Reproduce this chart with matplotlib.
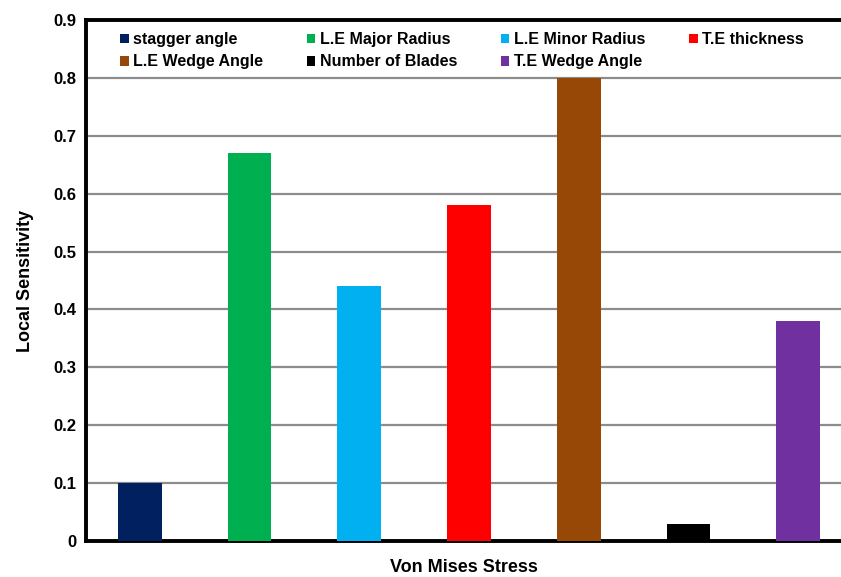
"""Local sensitivity of von Mises stress to each blade design parameter."""

import matplotlib

matplotlib.use("Agg")

import matplotlib.pyplot as plt

PARAMETERS = [
    "stagger angle",
    "L.E Major Radius",
    "L.E Minor Radius",
    "T.E thickness",
    "L.E Wedge Angle",
    "Number of Blades",
    "T.E Wedge Angle",
]
SENSITIVITY = [0.10, 0.67, 0.44, 0.58, 0.80, 0.03, 0.38]
COLORS = ["#002060", "#00B050", "#00B0F0", "#FF0000", "#974706", "#000000", "#7030A0"]
Y_TICKS = [0.0, 0.1, 0.2, 0.3, 0.4, 0.5, 0.6, 0.7, 0.8, 0.9]

FONT = "Liberation Sans"

fig = plt.figure(figsize=(8.41, 5.77), dpi=100)
ax = fig.add_axes((0.1023, 0.0624, 0.8977, 0.903))

bars = []
for i, (name, val, col) in enumerate(zip(PARAMETERS, SENSITIVITY, COLORS)):
    b = ax.bar(i, val, width=0.4, color=col, label=name, zorder=3)
    bars.append(b)

ax.set_xlim(-0.49, 6.39)
ax.set_ylim(0, 0.9)
ax.set_yticks(Y_TICKS)
ax.set_yticklabels(["0" if v == 0 else f"{v:.1f}" for v in Y_TICKS],
                   fontsize=12, fontweight="bold", family=FONT)
ax.set_xticks([])
ax.tick_params(axis="y", length=0, pad=7)

ax.grid(axis="y", color="#8c8c8c", linewidth=1.6, zorder=0)
ax.set_axisbelow(True)

for side in ("left", "bottom", "top"):
    ax.spines[side].set_linewidth(2.8)
    ax.spines[side].set_color("black")
ax.spines["right"].set_visible(False)

ax.set_ylabel("Local Sensitivity", fontsize=13, fontweight="bold",
              family=FONT, labelpad=14)
ax.set_xlabel("Von Mises Stress", fontsize=13, fontweight="bold",
              family=FONT, labelpad=13)

# fill the legend row by row
order = [0, 4, 1, 5, 2, 6, 3]
leg = ax.legend(
    [bars[i] for i in order], [PARAMETERS[i] for i in order],
    ncol=4, loc="upper left", bbox_to_anchor=(0.03, 0.998),
    frameon=True, facecolor="white", edgecolor="white", framealpha=1.0,
    fancybox=False, borderpad=0.2, handlelength=0.55, handleheight=0.55,
    handletextpad=0.3, columnspacing=2.7, labelspacing=0.45,
    prop={"family": FONT, "weight": "bold", "size": 11.5},
)
leg.set_zorder(5)

fig.savefig("out.png", dpi=100, facecolor="white")
